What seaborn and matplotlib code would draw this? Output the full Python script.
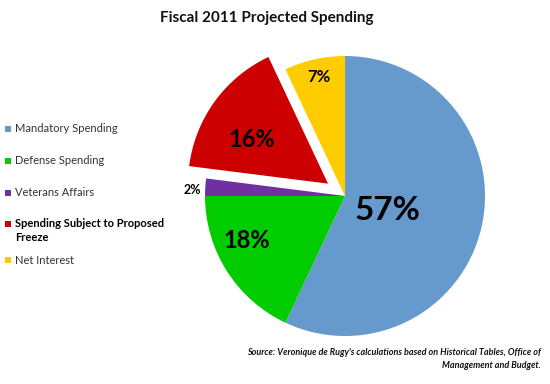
import numpy as np
import matplotlib
matplotlib.use("Agg")
import matplotlib.pyplot as plt
import seaborn as sns

sns.set_theme(style="white")
plt.rcParams['font.family'] = ['Lato', 'DejaVu Sans']

categories = ["Mandatory Spending", "Defense Spending", "Veterans Affairs",
              "Spending Subject to Proposed Freeze", "Net Interest"]
legend_labels = ["Mandatory Spending", "Defense Spending", "Veterans Affairs",
                 "Spending Subject to Proposed\nFreeze", "Net Interest"]
values = [57, 18, 2, 16, 7]
pct_labels = ["57%", "18%", "2%", "16%", "7%"]
colors = ["#6699CC", "#00CC00", "#7030A0", "#CC0000", "#FFCC00"]
explode = [0, 0, 0, 0.15, 0]

# styling per slice
label_dist = [0.32, 0.77, 1.09, 0.63, 0.87]
label_shift = [-6, -8, 1.5, 6, 0]
label_size = [24, 17, 9, 17, 12]

fig = plt.figure(figsize=(5.5, 3.84), dpi=100)
fig.patch.set_facecolor("white")
ax = fig.add_axes([0.2455, -0.0573, 0.7636, 1.09375])
wedges, _ = ax.pie(values, colors=colors, explode=explode, startangle=90,
                   counterclock=False, radius=1,
                   wedgeprops=dict(linewidth=0))
ax.set_xlim(-1.5, 1.5)
ax.set_ylim(-1.5, 1.5)
ax.set_aspect("equal")
ax.axis("off")

for w, lab, d, sh, fs in zip(wedges, pct_labels, label_dist, label_shift, label_size):
    ang = np.deg2rad((w.theta1 + w.theta2) / 2 + sh)
    cx, cy = w.center
    ax.text(cx + d * np.cos(ang), cy + d * np.sin(ang), lab, ha="center", va="center",
            fontsize=fs, fontweight="bold", color="black")

# manual legend on left
leg_y = [129, 161, 193, 224, 260]
for lab, col, y, cat in zip(legend_labels, colors, leg_y, categories):
    fy = 1 - y / 384
    fig.patches.append(matplotlib.patches.Rectangle((5 / 550, fy - 3 / 384), 6 / 550, 6 / 384,
                                                    transform=fig.transFigure, facecolor=col,
                                                    edgecolor="none"))
    if "Freeze" in cat:
        fig.text(15 / 550, fy + 6 / 384, lab, ha="left", va="top", fontsize=8,
                 fontweight="bold", color="black", linespacing=1.35)
    else:
        fig.text(15 / 550, fy, lab, ha="left", va="center", fontsize=8, color="#333333")

fig.text(267 / 550, 1 - 18 / 384, "Fiscal 2011 Projected Spending", ha="center", va="center",
         fontsize=11, fontweight="bold", color="#111111")
fig.text(541 / 550, 1 - 359 / 384,
         "Source: Veronique de Rugy's calculations based on Historical Tables, Office of\nManagement and Budget.",
         ha="right", va="center", fontsize=6.5, fontweight="bold", fontstyle="italic",
         color="#111111", linespacing=1.45, multialignment="right")

fig.savefig("out.png", dpi=100, facecolor="white")
